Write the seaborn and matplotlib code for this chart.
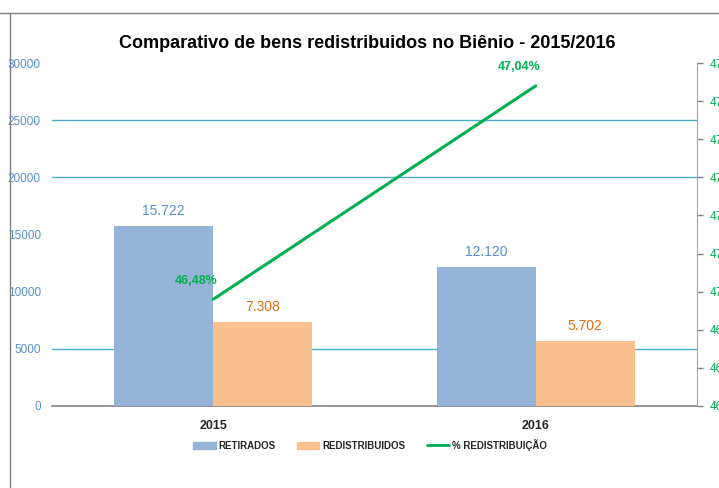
import math
import matplotlib
matplotlib.use("Agg")
import matplotlib.pyplot as plt
from matplotlib.lines import Line2D
from matplotlib.ticker import FixedLocator, FuncFormatter
import pandas as pd
import seaborn as sns

years = ["2015", "2016"]
retirados = [15722, 12120]
redistribuidos = [7308, 5702]
pct_redistrib = [46.48, 47.04]
series_names = ["RETIRADOS", "REDISTRIBUIDOS"]

sns.set_style("white")
plt.rcParams["font.family"] = ["Liberation Sans", "DejaVu Sans"]

df = pd.DataFrame({
    "ano": years * 2,
    "serie": [series_names[0]] * 2 + [series_names[1]] * 2,
    "valor": retirados + redistribuidos,
})

fig = plt.figure(figsize=(7.19, 4.88), dpi=100)
ax = fig.add_axes([52 / 719, 1 - 406 / 488, 645 / 719, 343 / 488])

# ---------- BARS ----------
sns.barplot(data=df, x="ano", y="valor", hue="serie", ax=ax,
            palette=["#95B3D7", "#FAC090"], width=0.615, gap=0,
            saturation=1, legend=False, linewidth=0, zorder=3)
ax.set_xlim(-0.5, 1.5)
ax.set_ylim(0, 30000)
ax.set_yticks(range(0, 30001, 5000))
ax.tick_params(axis="y", colors="#558ED5", labelsize=8.5, length=0, pad=8)
ax.tick_params(axis="x", length=0, labelsize=9, pad=10)
for lab in ax.get_xticklabels():
    lab.set_fontweight("bold")
ax.set_xlabel("")
ax.set_ylabel("")
for g in [5000, 20000, 25000]:
    ax.axhline(g, color="#4BACC6", lw=1, zorder=1)
for s in ["left", "right", "top"]:
    ax.spines[s].set_visible(False)
ax.spines["bottom"].set_color("#808080")
ax.spines["bottom"].set_linewidth(1.2)

# value labels
offset = 0.615 / 4
for i in range(len(years)):
    ax.text(i - offset, retirados[i] + 700, f"{retirados[i]:,}".replace(",", "."),
            ha="center", va="bottom", color="#558ED5", fontsize=10)
    ax.text(i + offset, redistribuidos[i] + 700, f"{redistribuidos[i]:,}".replace(",", "."),
            ha="center", va="bottom", color="#E46C0A", fontsize=10)

# ---------- LINE (secondary axis) ----------
ax2 = ax.twinx()
sns.lineplot(x=list(range(len(years))), y=pct_redistrib, ax=ax2,
             color="#00B050", lw=2.2, zorder=5)
ax2.set_ylim(46.2, 47.1)
ax2.yaxis.set_major_locator(FixedLocator([46.2 + 0.1 * k for k in range(10)]))
# excel "0%" format -> round half up
ax2.yaxis.set_major_formatter(FuncFormatter(lambda v, p: f"{math.floor(v + 0.5 + 1e-9)}%"))
ax2.tick_params(axis="y", colors="#808080", labelcolor="#00B050", labelsize=8.5,
                length=4, width=1, direction="out", pad=5)
for s in ["left", "top", "bottom"]:
    ax2.spines[s].set_visible(False)
ax2.spines["right"].set_color("#A6A6A6")
ax2.set_ylabel("")
for i, p in enumerate(pct_redistrib):
    ax2.annotate(f"{p:.2f}%".replace(".", ","), (i, p), xytext=(-12, 9),
                 textcoords="offset points", ha="center", va="bottom",
                 color="#00B050", fontsize=9, fontweight="bold")

# ---------- TITLE / LEGEND ----------
fig.text(367 / 719, 1 - 44 / 488, "Comparativo de bens redistribuidos no Biênio - 2015/2016",
         ha="center", va="center", fontsize=13, fontweight="bold", color="black")

handles = [
    plt.Rectangle((0, 0), 1, 1, color="#95B3D7"),
    plt.Rectangle((0, 0), 1, 1, color="#FAC090"),
    Line2D([0], [0], color="#00B050", lw=2),
]
fig.legend(handles, series_names + ["% REDISTRIBUIÇÃO"], loc="center",
           bbox_to_anchor=(370 / 719, 1 - 445 / 488), ncol=3, frameon=False,
           handlelength=2.3, handleheight=0.8, columnspacing=2.2,
           handletextpad=0.3, prop={"weight": "bold", "size": 7})
for t in fig.legends[0].get_texts():
    t.set_color("#262626")

# chart border
fig.add_artist(Line2D([0, 1], [1 - 13 / 488, 1 - 13 / 488], color="#808080", lw=1))
fig.add_artist(Line2D([9.5 / 719, 9.5 / 719], [0, 1 - 13 / 488], color="#808080", lw=1))

fig.savefig("out.png", dpi=100)
